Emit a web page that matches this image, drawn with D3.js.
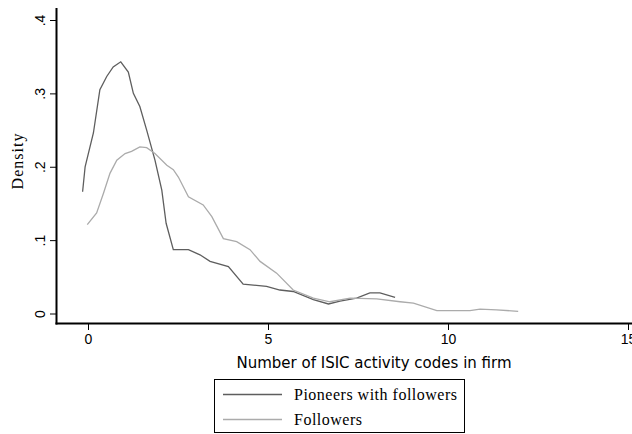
<html>

<head>
    <script src="https://d3js.org/d3.v7.min.js"></script>
    <style>
        body { margin: 0; background: #fff; }
        .axis text { font-family: "Liberation Sans", Arial, sans-serif; font-size: 14px; fill: #000; }
    </style>
</head>

<body>
    <svg id="chartArea" width="632" height="434"></svg>
    <script>
        // kernel density estimates
        const pioneersX = [-0.15, -0.08, 0.15, 0.33, 0.52, 0.70, 0.91, 1.12, 1.26, 1.44, 1.63, 1.86, 2.05, 2.17, 2.37,
            2.79, 3.11, 3.39, 3.90, 4.31, 4.96, 5.33, 5.70, 6.26, 6.68, 7.00, 7.46, 7.83, 8.11, 8.53];
        const pioneersY = [0.166, 0.200, 0.246, 0.305, 0.323, 0.336, 0.343, 0.329, 0.300, 0.282, 0.250, 0.209, 0.168, 0.123, 0.087,
            0.087, 0.080, 0.071, 0.064, 0.040, 0.037, 0.032, 0.030, 0.019, 0.013, 0.017, 0.021, 0.028, 0.028, 0.022];

        const followersX = [-0.02, 0.24, 0.43, 0.61, 0.80, 1.03, 1.21, 1.44, 1.63, 1.86, 2.19, 2.37, 2.51, 2.79, 3.20,
            3.44, 3.76, 4.13, 4.50, 4.78, 5.24, 5.70, 6.26, 6.72, 7.28, 8.02, 8.67, 9.04, 9.69, 10.61, 10.89, 11.35, 11.95];
        const followersY = [0.121, 0.137, 0.164, 0.191, 0.209, 0.218, 0.221, 0.227, 0.226, 0.218, 0.202, 0.196, 0.186, 0.159, 0.148,
            0.132, 0.102, 0.098, 0.087, 0.071, 0.055, 0.032, 0.021, 0.016, 0.021, 0.020, 0.016, 0.014, 0.004, 0.004, 0.006, 0.005, 0.003];

        const xTicks = [0, 5, 10, 15];
        const yTicks = [0, 0.1, 0.2, 0.3, 0.4];
        const seriesNames = ["Pioneers with followers", "Followers"];
        const seriesColors = ["#5e5e5e", "#ababab"];

        const svg = d3.select("#chartArea");

        const xScale = d3.scaleLinear().domain([0, 15]).range([88, 628]);
        const yScale = d3.scaleLinear().domain([0, 0.4]).range([313.5, 20]);

        // axes
        const leftAxis = d3.axisLeft(yScale).tickValues(yTicks).tickSize(6).tickPadding(4)
            .tickFormat(d => d === 0 ? "0" : d3.format(".1f")(d).replace(/^0/, ""));
        const yAxisG = svg.append("g")
            .attr("class", "axis")
            .attr("transform", "translate(56,0)")
            .call(leftAxis);
        yAxisG.select(".domain").remove();
        yAxisG.selectAll(".tick line").attr("stroke", "#000");
        yAxisG.selectAll(".tick text")
            .attr("text-anchor", "middle")
            .attr("x", null)
            .attr("transform", "translate(-11,0) rotate(-90)")
            .attr("dy", "0em");

        const bottomAxis = d3.axisBottom(xScale).tickValues(xTicks).tickSize(6).tickPadding(4);
        const xAxisG = svg.append("g")
            .attr("class", "axis")
            .attr("transform", "translate(0,324)")
            .call(bottomAxis);
        xAxisG.select(".domain").remove();
        xAxisG.selectAll(".tick line").attr("stroke", "#000");

        // axis frame lines
        svg.append("line").attr("x1", 56.5).attr("x2", 56.5).attr("y1", 8).attr("y2", 324.5)
            .attr("stroke", "#000").attr("stroke-width", 2);
        svg.append("line").attr("x1", 55.5).attr("x2", 632).attr("y1", 323.5).attr("y2", 323.5)
            .attr("stroke", "#000").attr("stroke-width", 2);

        // axis titles
        svg.append("text")
            .attr("transform", "translate(23,161) rotate(-90)")
            .attr("text-anchor", "middle")
            .style("font-family", "'Liberation Serif', 'Times New Roman', serif")
            .style("font-size", "16px")
            .style("letter-spacing", "1px")
            .text("Density");

        svg.append("text")
            .attr("x", 374).attr("y", 368)
            .attr("text-anchor", "middle")
            .style("font-family", "'DejaVu Sans', Verdana, sans-serif")
            .style("font-size", "15px")
            .text("Number of ISIC activity codes in firm");

        // density lines
        const lineGenerator = d3.line()
            .x(d => xScale(d[0]))
            .y(d => yScale(d[1]));

        const series = [
            d3.zip(pioneersX, pioneersY),
            d3.zip(followersX, followersY)
        ];

        svg.selectAll(".dens")
            .data(series)
            .join("path")
            .attr("class", "dens")
            .attr("d", d => lineGenerator(d))
            .attr("fill", "none")
            .attr("stroke", (d, i) => seriesColors[i])
            .attr("stroke-width", 1.3);

        // legend
        const legend = svg.append("g");
        legend.append("rect")
            .attr("x", 214.5).attr("y", 379.5).attr("width", 250).attr("height", 53)
            .attr("fill", "#fff").attr("stroke", "#000").attr("stroke-width", 1);

        const items = legend.selectAll(".item")
            .data(seriesNames)
            .join("g")
            .attr("class", "item")
            .attr("transform", (d, i) => `translate(0,${394.5 + i * 25})`);
        items.append("line")
            .attr("x1", 223).attr("x2", 282)
            .attr("stroke", (d, i) => seriesColors[i])
            .attr("stroke-width", 1.3);
        items.append("text")
            .attr("x", 294).attr("y", 5.5)
            .style("font-family", "'Liberation Serif', 'Times New Roman', serif")
            .style("font-size", "16px")
            .style("letter-spacing", "0.5px")
            .text(d => d);
    </script>
</body>

</html>
